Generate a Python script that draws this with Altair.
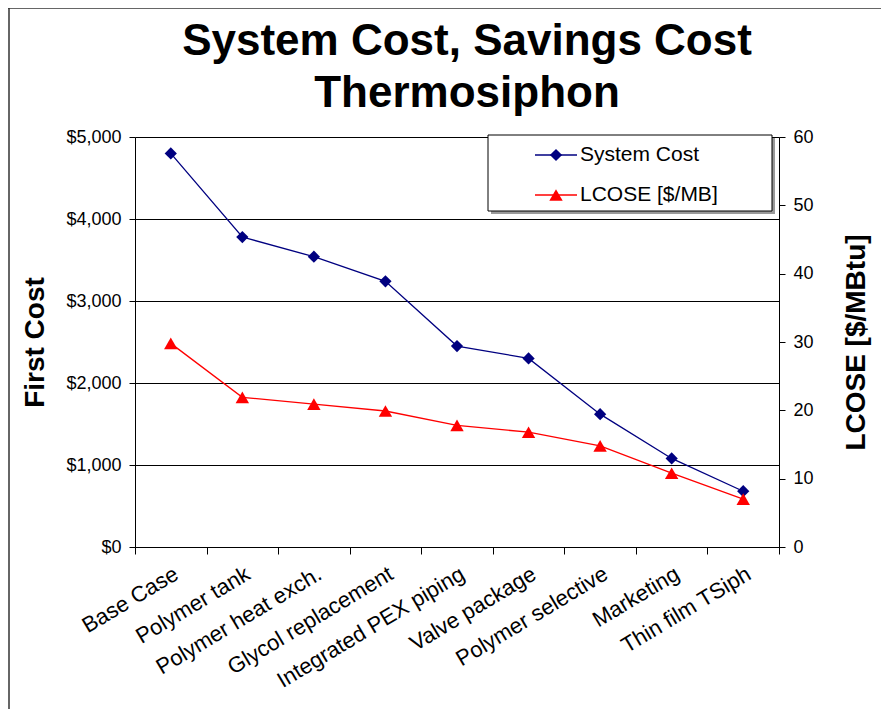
import altair as alt
import pandas as pd

categories = ["Base Case", "Polymer tank", "Polymer heat exch.", "Glycol replacement",
              "Integrated PEX piping", "Valve package", "Polymer selective",
              "Marketing", "Thin film TSiph"]
system_cost = [4800, 3780, 3540, 3240, 2450, 2300, 1620, 1080, 680]
lcose = [29.8, 21.9, 20.9, 19.9, 17.8, 16.8, 14.8, 10.8, 7.0]
series_names = ["System Cost", "LCOSE [$/MB]"]
series_colors = ["#000080", "#FF0000"]
series_shapes = ["diamond", "triangle-up"]
title_lines = ["System Cost, Savings Cost", "Thermosiphon"]

FONT = "Liberation Sans"

df = pd.DataFrame({"category": categories, "cost": system_cost, "lcose": lcose})

x_enc = alt.X("category:N", sort=None, title=None,
              scale=alt.Scale(paddingInner=0, paddingOuter=0),
              axis=alt.Axis(labelAngle=-31, labelAlign="right", labelBaseline="top",
                            labelFontSize=22, labelFont=FONT, labelColor="black",
                            labelPadding=9, tickBand="extent", tickSize=7,
                            tickColor="black", domainColor="black", grid=False,
                            labelLimit=400))

cost_layer = alt.Chart(df).mark_line(
    color=series_colors[0], strokeWidth=1.3,
    point=alt.OverlayMarkDef(shape=series_shapes[0], size=150, filled=True,
                             color=series_colors[0], opacity=1)
).encode(
    x=x_enc,
    y=alt.Y("cost:Q", title="First Cost",
            scale=alt.Scale(domain=[0, 5000], nice=False),
            axis=alt.Axis(values=[0, 1000, 2000, 3000, 4000, 5000], format="$,.0f",
                          labelFontSize=18, labelFont=FONT, labelColor="black",
                          titleFontSize=28, titleFont=FONT, titleFontWeight="bold",
                          titleColor="black", titlePadding=16, labelPadding=8,
                          tickSize=6, tickColor="black", domainColor="black",
                          grid=True, gridColor="black", gridWidth=1, gridOpacity=1))
)

lcose_layer = alt.Chart(df).mark_line(
    color=series_colors[1], strokeWidth=1.3,
    point=alt.OverlayMarkDef(shape=series_shapes[1], size=180, filled=True,
                             color=series_colors[1], opacity=1)
).encode(
    x=alt.X("category:N", sort=None, title=None),
    y=alt.Y("lcose:Q", title="LCOSE [$/MBtu]",
            scale=alt.Scale(domain=[0, 60], nice=False),
            axis=alt.Axis(orient="right", values=[0, 10, 20, 30, 40, 50, 60],
                          labelFontSize=18, labelFont=FONT, labelColor="black",
                          titleFontSize=28, titleFont=FONT, titleFontWeight="bold",
                          titleColor="black", titleAngle=-90, titleBaseline="top",
                          titlePadding=29, labelPadding=8,
                          tickSize=6, tickColor="black", domainColor="black",
                          grid=False))
)

one = pd.DataFrame({"a": [0]})

# chart title (two lines)
title_layers = [
    alt.Chart(one).mark_text(align="center", baseline="alphabetic", fontSize=44,
                             font=FONT, fontWeight="bold", color="black").encode(
        x=alt.value(332), y=alt.value(yy), text=alt.value(t))
    for t, yy in zip(title_lines, [-82, -30])
]

# outer chart border (top and left)
border_top = alt.Chart(one).mark_rule(color="#333333", strokeWidth=1.5).encode(
    x=alt.value(-127), x2=alt.value(760), y=alt.value(-129))
border_left = alt.Chart(one).mark_rule(color="#333333", strokeWidth=1.5).encode(
    x=alt.value(-126), y=alt.value(-129), y2=alt.value(575))

# legend
legend_shadow = alt.Chart(one).mark_rect(fill="#9a9a9a").encode(
    x=alt.value(356), x2=alt.value(640), y=alt.value(1), y2=alt.value(77))
legend_box = alt.Chart(one).mark_rect(fill="white", stroke="black", strokeWidth=1).encode(
    x=alt.value(353), x2=alt.value(637), y=alt.value(-2), y2=alt.value(74))

legend_layers = [legend_shadow, legend_box]
rows_y = [18, 58]
sizes = [150, 180]
for name, col, shp, ry, sz in zip(series_names, series_colors, series_shapes, rows_y, sizes):
    legend_layers.append(alt.Chart(one).mark_rule(color=col, strokeWidth=1.3).encode(
        x=alt.value(400), x2=alt.value(442), y=alt.value(ry)))
    legend_layers.append(alt.Chart(one).mark_point(shape=shp, size=sz, filled=True,
                                                   color=col, opacity=1).encode(
        x=alt.value(421), y=alt.value(ry)))
    legend_layers.append(alt.Chart(one).mark_text(align="left", baseline="middle",
                                                  fontSize=21, font=FONT, color="black").encode(
        x=alt.value(445), y=alt.value(ry), text=alt.value(name)))

chart = alt.layer(
    border_top, border_left, *title_layers, cost_layer, lcose_layer, *legend_layers
).resolve_scale(y="independent").properties(
    width=644, height=410,
    autosize=alt.AutoSizeParams(type="none"),
    padding={"left": 127, "top": 129, "right": 102, "bottom": 162},
).configure_view(stroke=None).configure(background="white")

chart.save("out.html", embed_options={"renderer": "svg", "actions": False})
